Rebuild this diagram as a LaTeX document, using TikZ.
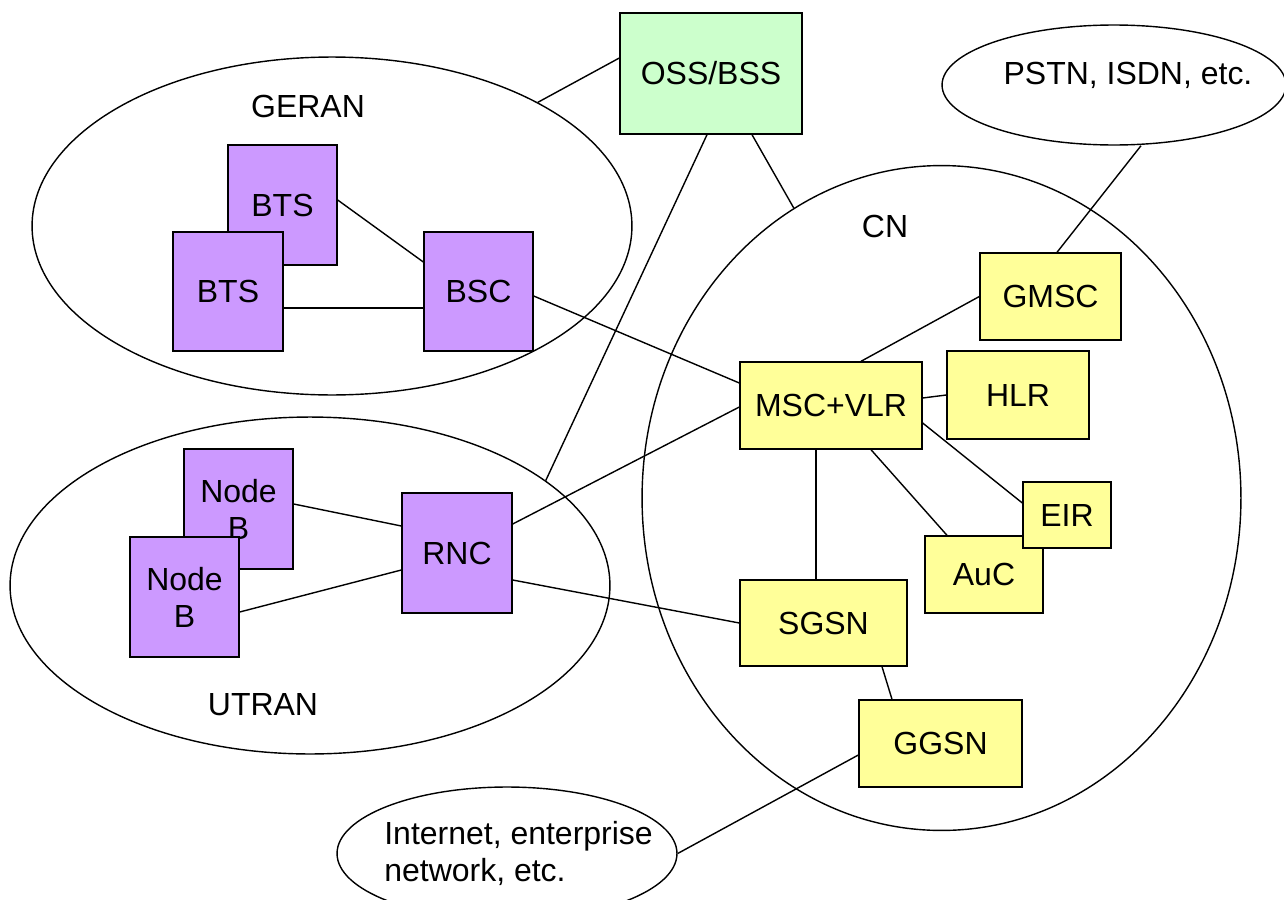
\documentclass[tikz,border=0pt]{standalone}
\usepackage{fontspec}
\setmainfont{Liberation Sans}
\usetikzlibrary{shapes.geometric,calc}
\definecolor{ranpurple}{HTML}{CC99FF}
\definecolor{coreyellow}{HTML}{FFFF99}
\definecolor{ossgreen}{HTML}{CCFFCC}
\tikzset{
	txt/.style={inner sep=0pt,font=\fontsize{18.2}{21}\selectfont,align=center},
	ne/.style={txt,draw,rectangle,line width=0.8pt},
	ran/.style={ne,fill=ranpurple},
	core/.style={ne,fill=coreyellow},
	netarea/.style={draw,ellipse,inner sep=0pt,line width=0.8pt},
	link/.style={line width=0.8pt},
}
\begin{document}
\begin{tikzpicture}[x=0.02cm,y=-0.02cm]
				\useasboundingbox (0,0) rectangle (1284,899);
				% network areas
				\node[netarea,minimum width=12cm,minimum height=6.76cm] (geran) at (332,226) {};
				\node[netarea,minimum width=12cm,minimum height=6.74cm] (utran) at (310,585.5) {};
				\node[netarea,minimum width=11.98cm,minimum height=13.3cm] (cn) at (941.5,498) {};
				\node[netarea,minimum width=6.88cm,minimum height=2.4cm] (pstn) at (1114,85) {};
				\node[netarea,minimum width=6.8cm,minimum height=2.66cm] (inet) at (507,853.5) {};
				\node[txt] (geranlbl) at (308,106) {GERAN};
				\node[txt] (utranlbl) at (263,705) {UTRAN};
				\node[txt] (cnlbl) at (885,226) {CN};
				\node[txt] (pstnlbl) at (1128,75) {PSTN, ISDN, etc.};
				\node[txt,align=left,anchor=west] (inetlbl) at (384,853.5) {Internet, enterprise\\network, etc.};

				% boxes
				\node[ne,fill=ossgreen,minimum width=3.64cm,minimum height=2.42cm] (oss) at (711,73.5) {OSS/BSS};
				\node[ran,minimum width=2.18cm,minimum height=2.4cm] (btsB) at (282.5,205) {BTS};
				\node[ran,minimum width=2.2cm,minimum height=2.38cm] (btsF) at (228,291.5) {BTS};
				\node[ran,minimum width=2.18cm,minimum height=2.38cm] (bsc) at (478.5,291.5) {BSC};
				\node[ran,minimum width=2.18cm,minimum height=2.4cm] (nodebB) at (238.5,509) {Node\\B};
				\node[ran,minimum width=2.18cm,minimum height=2.4cm] (nodebF) at (184.5,597) {Node\\B};
				\node[ran,minimum width=2.2cm,minimum height=2.4cm] (rnc) at (457,553) {RNC};
				\node[core,minimum width=2.82cm,minimum height=1.74cm] (gmsc) at (1050.5,296.5) {GMSC};
				\node[core,minimum width=3.64cm,minimum height=1.74cm] (msc) at (831,405.5) {MSC+VLR};
				\node[core,minimum width=2.84cm,minimum height=1.76cm] (hlr) at (1018,395) {HLR};
				\node[core,minimum width=2.36cm,minimum height=1.54cm] (auc) at (984,574.5) {AuC};
				\node[core,minimum width=1.76cm,minimum height=1.32cm] (eir) at (1067,515) {EIR};
				\node[core,minimum width=3.34cm,minimum height=1.72cm] (sgsn) at (823.5,623) {SGSN};
				\node[core,minimum width=3.26cm,minimum height=1.74cm] (ggsn) at (940.5,743.5) {GGSN};

				% links
				\draw[link] ($(oss.west)+(0,-15.5)$) -- (geran.31.8);
				\draw[link] ($(oss.south)+(-4,0)$) -- (utran.24);
				\draw[link] ($(oss.south)+(41,0)$) -- (cn.117.1);
				\draw[link] ($(btsB.east)+(0,-5)$) -- ($(bsc.west)+(0,-29.5)$);
				\draw[link] ($(btsF.east)+(0,16.5)$) -- ($(bsc.west)+(0,16.5)$);
				\draw[link] ($(bsc.east)+(0,4.5)$) -- ($(msc.west)+(0,-22.5)$);
				\draw[link] ($(rnc.east)+(0,-29)$) -- ($(msc.west)+(0,1.5)$);
				\draw[link] ($(rnc.east)+(0,27)$) -- (sgsn.west);
				\draw[link] ($(nodebB.east)+(0,-5)$) -- ($(rnc.west)+(0,-27)$);
				\draw[link] ($(nodebF.east)+(0,15)$) -- ($(rnc.west)+(0,17)$);
				\draw[link] ($(msc.north)+(30,0)$) -- (gmsc.west);
				\draw[link] ($(msc.east)+(0,-7.5)$) -- (hlr.west);
				\draw[link] ($(msc.east)+(0,17.5)$) -- ($(eir.west)+(0,-12)$);
				\draw[link] ($(msc.south)+(40,0)$) -- ($(auc.north)+(-37,0)$);
				\draw[link] ($(msc.south)+(-15,0)$) -- ($(sgsn.north)+(-7.5,0)$);
				\draw[link] ($(sgsn.south)+(58.5,0)$) -- ($(ggsn.north)+(-48.5,0)$);
				\draw[link] ($(ggsn.west)+(0,11.5)$) -- (inet.east);
				\draw[link] ($(pstn.south)+(27,0)$) -- ($(gmsc.north)+(6.5,0)$);
			\end{tikzpicture}
\end{document}
